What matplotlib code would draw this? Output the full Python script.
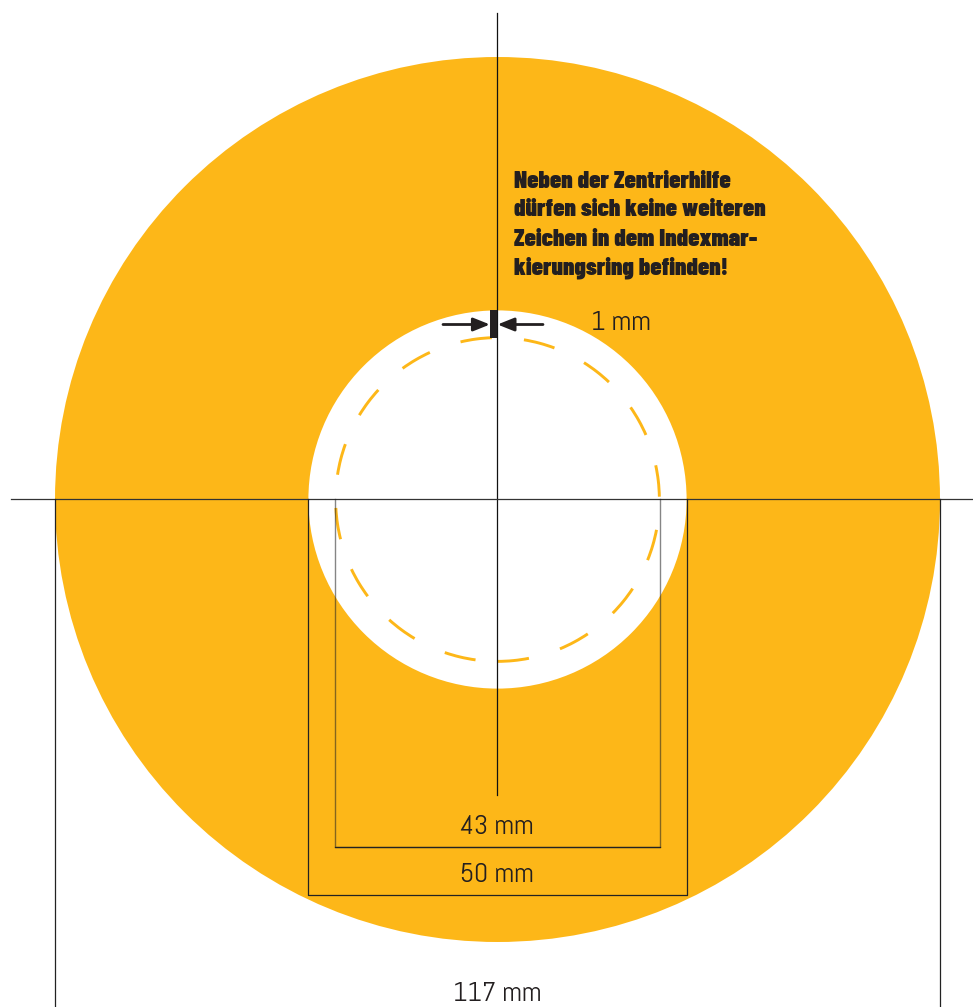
import matplotlib.pyplot as plt
from matplotlib.patches import Arc, Circle, Rectangle

# Durchmesser in mm
disc_d = 117
hole_d = 50
ring_d = 43
mark_w = 1
dash_ring_d = 42.8

# Startwinkel der Striche im Indexring (Grad)
dash_starts = [270, 292.7, 315.4, 338, 1, 23.5, 46.5, 69.4, 92, 114.7, 137.4, 160, 183, 205.5, 228, 251]
dash_len = 11.2

labels = ['1 mm', '43 mm', '50 mm', '117 mm']
note = ['Neben der Zentrierhilfe', 'dürfen sich keine weiteren',
        'Zeichen in dem Indexmar-', 'kierungsring befinden!']

orange = '#FDB718'
dark = '#231F20'
scale = 7.564  # Pixel pro mm
cx, cy = 497.5, 499.5


def mm(px, py):
    return (px - cx) / scale, (cy - py) / scale


fig = plt.figure(figsize=(9.73, 10.07), dpi=100)
ax = fig.add_axes([0, 0, 1, 1])
ax.set_xlim(mm(0, 0)[0], mm(973, 0)[0])
ax.set_ylim(mm(0, 1007)[1], mm(0, 0)[1])
ax.axis('off')

# Scheibe und Innenloch
ax.add_patch(Circle((0, 0), disc_d / 2, fc=orange, ec='none', zorder=1))
ax.add_patch(Circle((0, 0), hole_d / 2, fc='white', ec='none', zorder=2))

# Gestrichelter Ring
for start in dash_starts:
    ax.add_patch(Arc((0, 0), dash_ring_d, dash_ring_d, theta1=start, theta2=start + dash_len,
                     color=orange, lw=2.1, zorder=3))

# Achsenkreuz
bottom = mm(0, 1007)[1]
ax.plot([0, 0], [mm(0, 795)[1], mm(0, 13)[1]], color='#111111', lw=0.9, zorder=5)
ax.plot([mm(11, 0)[0], mm(973, 0)[0]], [0, 0], color='#333333', lw=0.9, zorder=5)

# Bemaßungen
ax.plot([-disc_d / 2, -disc_d / 2], [0, bottom], color='#222222', lw=0.9, zorder=5)
ax.plot([disc_d / 2, disc_d / 2], [0, bottom], color='#222222', lw=0.9, zorder=5)
y50 = mm(0, 894.5)[1]
y43 = mm(0, 847)[1]
ax.plot([-hole_d / 2, -hole_d / 2, hole_d / 2, hole_d / 2], [0, y50, y50, 0], color='#222222', lw=0.9, zorder=5)
ax.plot([-ring_d / 2, -ring_d / 2, ring_d / 2, ring_d / 2], [0, y43, y43, 0], color='#222222', lw=1.0, alpha=0.55, zorder=5)
ax.plot([-ring_d / 2, ring_d / 2], [y43, y43], color='#222222', lw=0.9, zorder=5)

# Zentrierhilfe mit Pfeilen
ax.add_patch(Rectangle((-mark_w, mm(0, 338)[1]), mark_w, 28 / scale, fc=dark, ec='none', zorder=6))
ya = mm(0, 324.5)[1]
ax.annotate('', xy=(-mark_w, ya), xytext=(mm(443, 0)[0], ya), zorder=7,
            arrowprops=dict(arrowstyle='-|>,head_length=1.0,head_width=0.4', color=dark, lw=2.0,
                            shrinkA=0, shrinkB=0))
ax.annotate('', xy=(0, ya), xytext=(mm(543, 0)[0], ya), zorder=7,
            arrowprops=dict(arrowstyle='-|>,head_length=1.0,head_width=0.4', color=dark, lw=2.0,
                            shrinkA=0, shrinkB=0))

# Texte
label_font = ['Abel', 'Liberation Sans', 'DejaVu Sans']
note_font = ['Barlow Condensed', 'Liberation Sans', 'DejaVu Sans']
label_pos = [(621, 323), (497, 827), (497, 875), (497, 994)]
for text, (px, py) in zip(labels, label_pos):
    x, y = mm(px, py)
    ax.text(x, y, text, fontsize=20, family=label_font, color=dark, ha='center', va='center', zorder=8)

note_y = [181, 210, 239, 268]
for line, py in zip(note, note_y):
    x, y = mm(514, py)
    ax.text(x, y, line, fontsize=17.9, family=note_font, fontweight='black', color=dark,
            ha='left', va='center', zorder=8)

fig.savefig('out.png', dpi=100)
